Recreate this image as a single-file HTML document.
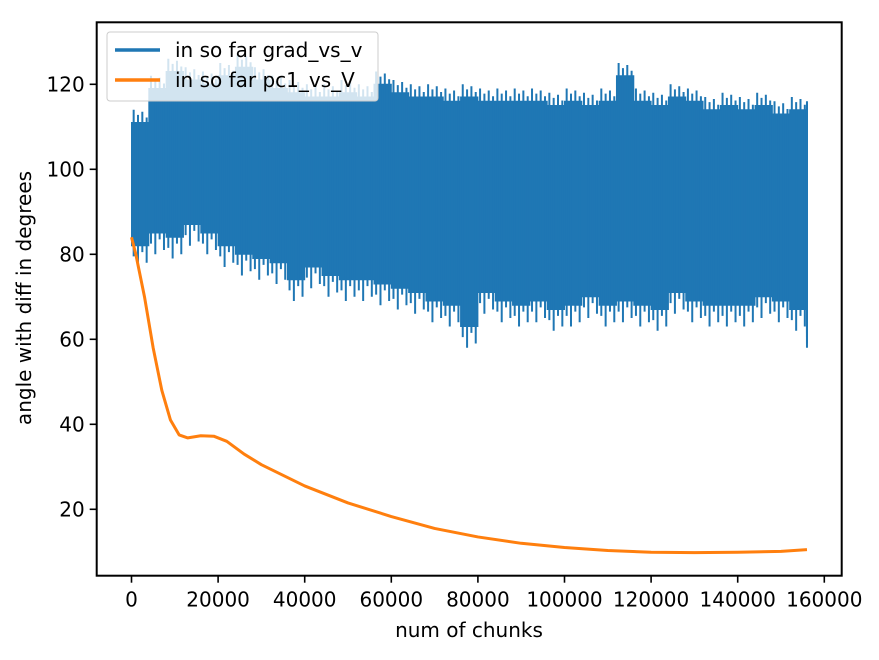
<!DOCTYPE html>
<html><head><meta charset="utf-8"><style>
body{margin:0;background:#fff;}
svg text{font-family:"DejaVu Sans","Liberation Sans",sans-serif;font-size:20px;fill:#000;}
</style></head><body>
<svg id="chart" width="879" height="655" xmlns="http://www.w3.org/2000/svg">
<g id="plot"></g>
<g id="axes"></g>
</svg>
<script>
const blueX = [0,4000,8000,12000,16000,20000,24000,28000,32000,36000,40000,44000,48000,52000,56000,60000,64000,68000,72000,76000,80000,84000,88000,92000,96000,100000,104000,108000,112000,116000,120000,124000,128000,132000,136000,140000,144000,148000,152000,156000];
const blueUpper = [114,122,126,124,123,125,127,124,122,121,120,120,121,120,123,121,120,120,119,120,119,119,119,119,118,119,118,119,125,119,118,120,119,117,118,117,118,116,117,116];
const blueLower = [77,80,79,82,80,77,75,74,73,69,72,70,69,69,68,67,66,64,63,58,66,64,63,64,62,63,65,63,64,63,62,66,64,63,63,63,65,64,62,58];
const orangeX = [0,1000,3000,5000,7000,9000,11000,13000,16000,19000,22000,26000,30000,40000,50000,60000,70000,80000,90000,100000,110000,120000,130000,140000,150000,156000];
const orangeY = [84,80,70,58,48,41,37.5,36.8,37.3,37.2,36,33,30.5,25.5,21.5,18.3,15.5,13.5,12,11,10.3,9.9,9.8,9.9,10.1,10.5];
const xTicks = [0,20000,40000,60000,80000,100000,120000,140000,160000];
const yTicks = [20,40,60,80,100,120];

const NS="http://www.w3.org/2000/svg";
const L=96.7,R=841.7,T=22.3,B=575.7;
const XEND=156000;
const xs=v=>131.5+v*86.6/20000;
const ys=v=>84.3+(120-v)*4.25;
function mk(tag,attrs,parent){const e=document.createElementNS(NS,tag);for(const k in attrs)e.setAttribute(k,attrs[k]);parent.appendChild(e);return e;}
const plot=document.getElementById('plot'), axes=document.getElementById('axes');

let up=[],lo=[];
for(let i=0;i<blueX.length;i++){
  const x0=xs(blueX[i]), x1=xs(Math.min(blueX[i]+4000,XEND));
  if(x1<=x0){continue;}
  up.push(x0+','+ys(blueUpper[i]-3));
  up.push(x1+','+ys(blueUpper[i]-3));
  lo.unshift(x0+','+ys(blueLower[i]+5));
  lo.unshift(x1+','+ys(blueLower[i]+5));
}
const band=mk('polygon',{points:up.concat(lo).join(' '),fill:'#1f77b4',stroke:'#1f77b4','stroke-width':1},plot);


for(let i=0;i<blueX.length;i++){
  for(let k=0;k<4;k++){
    const xv=Math.min(blueX[i]+500+k*1000,XEND);
    const f=[1,0.6,0.85,0.4][k];
    const u=blueUpper[i]-3+3*f, lw=blueLower[i]+5-5*[0.5,1,0.3,0.8][k];
    const s=mk('line',{x1:xs(xv),x2:xs(xv),y1:ys(u),y2:ys(lw),stroke:'#1f77b4','stroke-width':2},plot);
    
    
  }
}
const ol=mk('polyline',{points:orangeX.map((x,i)=>xs(x)+','+ys(orangeY[i])).join(' '),fill:'none',stroke:'#ff7f0e','stroke-width':3,'stroke-linejoin':'round'},plot);



const fr=mk('rect',{x:L,y:T,width:R-L,height:B-T,fill:'none',stroke:'#000','stroke-width':2},axes);


xTicks.forEach(v=>{
  mk('line',{x1:xs(v),x2:xs(v),y1:B,y2:B+7,stroke:'#000','stroke-width':1.6},axes);
  const t=mk('text',{x:xs(v),y:B+31,'text-anchor':'middle'},axes);t.textContent=v;
  
  
});
yTicks.forEach(v=>{
  mk('line',{x1:L-7,x2:L,y1:ys(v),y2:ys(v),stroke:'#000','stroke-width':1.6},axes);
  const t=mk('text',{x:L-12,y:ys(v)+7,'text-anchor':'end'},axes);t.textContent=v;
  
  
});
const xt=mk('text',{x:469,y:637,'text-anchor':'middle'},axes);xt.textContent='num of chunks';


const yt=mk('text',{x:0,y:0,'text-anchor':'middle',transform:'translate(31,298) rotate(-90)'},axes);yt.textContent='angle with diff in degrees';



const lg=mk('g',{},axes);


mk('rect',{x:107,y:32,width:271,height:69,rx:3,fill:'#fff','fill-opacity':0.8,stroke:'#ccc','stroke-width':1},lg);
[['in so far grad_vs_v','#1f77b4',50],['in so far pc1_vs_V','#ff7f0e',80]].forEach(([txt,c,y])=>{
  const g=mk('g',{},lg);
  
  
  mk('line',{x1:115,x2:160,y1:y,y2:y,stroke:c,'stroke-width':3.5},g);
  const t=mk('text',{x:175,y:y+7},g);t.textContent=txt;
});
</script>
</body></html>
